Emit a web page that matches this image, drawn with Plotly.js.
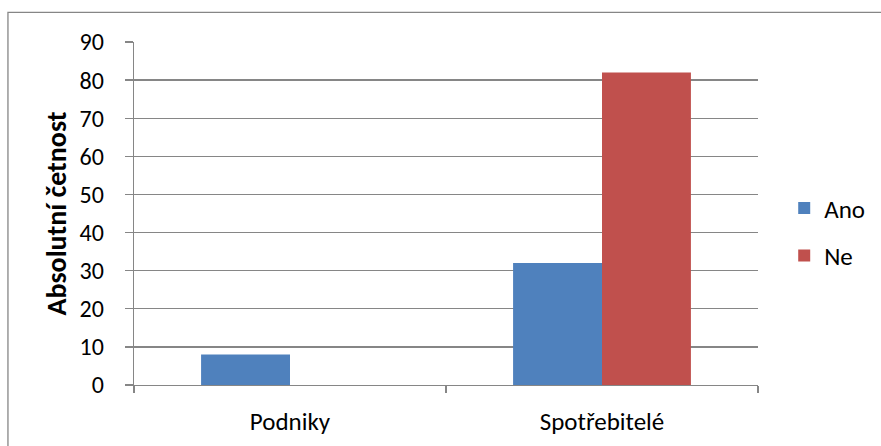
<!DOCTYPE html>
<html>
<head>
<meta charset="utf-8">
<script src="https://cdn.plot.ly/plotly-3.0.1.min.js"></script>
<style>
  html, body { margin: 0; padding: 0; background: #fff; }
  #chart { width: 881px; height: 446px; }
</style>
</head>
<body>
<div id="chart"></div>
<script>
// Categories and series values
const categories = ['Podniky', 'Spotřebitelé'];
const anoValues = [8, 32];
const neValues = [0, 82];
const seriesNames = ['Ano', 'Ne'];
const yTitle = 'Absolutní četnost';

const FONT = 'Carlito, Lato, "Open Sans", sans-serif';
const GRID = '#868686';

const traces = [
  {
    type: 'bar', name: seriesNames[0], x: categories, y: anoValues,
    marker: { color: '#4F81BD' }, legendgroup: 'a', hoverinfo: 'y'
  },
  {
    type: 'bar', name: seriesNames[1], x: categories, y: neValues,
    marker: { color: '#C0504D' }, legendgroup: 'b', hoverinfo: 'y'
  }
];

const layout = {
  width: 881, height: 446,
  margin: { l: 134, r: 123, t: 42, b: 61, pad: 0, autoexpand: false },
  paper_bgcolor: '#fff', plot_bgcolor: '#fff',
  font: { family: FONT, size: 24, color: '#000' },
  barmode: 'group', bargap: 0.43, bargroupgap: 0,
  showlegend: true,
  legend: {
    x: 1.042, y: 0.447, xanchor: 'left', yanchor: 'middle',
    font: { family: FONT, size: 25, color: '#000' },
    traceorder: 'grouped', tracegroupgap: 12,
    itemwidth: 30, bgcolor: 'rgba(0,0,0,0)'
  },
  xaxis: {
    type: 'category', tickson: 'boundaries',
    ticks: 'outside', ticklen: 7, tickcolor: GRID, tickwidth: 1.3,
    showline: true, linecolor: GRID, linewidth: 1.3,
    showgrid: false, zeroline: false, automargin: false,
    ticklabelstandoff: 14,
    tickfont: { family: FONT, size: 25 }
  },
  yaxis: {
    range: [0, 90], dtick: 10, tick0: 0,
    ticks: 'outside', ticklen: 8, tickcolor: GRID, tickwidth: 1.3,
    showline: true, linecolor: GRID, linewidth: 1.3,
    showgrid: true, gridcolor: GRID, gridwidth: 1.3,
    zeroline: false, automargin: false,
    ticklabelstandoff: 16,
    tickfont: { family: FONT, size: 24 },
    title: { text: '<b>' + yTitle + '</b>', standoff: 4, font: { family: FONT, size: 28 } }
  },
  shapes: [
    {
      type: 'rect', xref: 'paper', yref: 'paper',
      x0: -0.202, x1: 2, y0: -1, y1: 1.0864,
      line: { color: GRID, width: 1.3 }, fillcolor: 'rgba(0,0,0,0)', layer: 'below'
    }
  ]
};

Plotly.newPlot('chart', traces, layout, { displayModeBar: false, staticPlot: true });
</script>
</body>
</html>
